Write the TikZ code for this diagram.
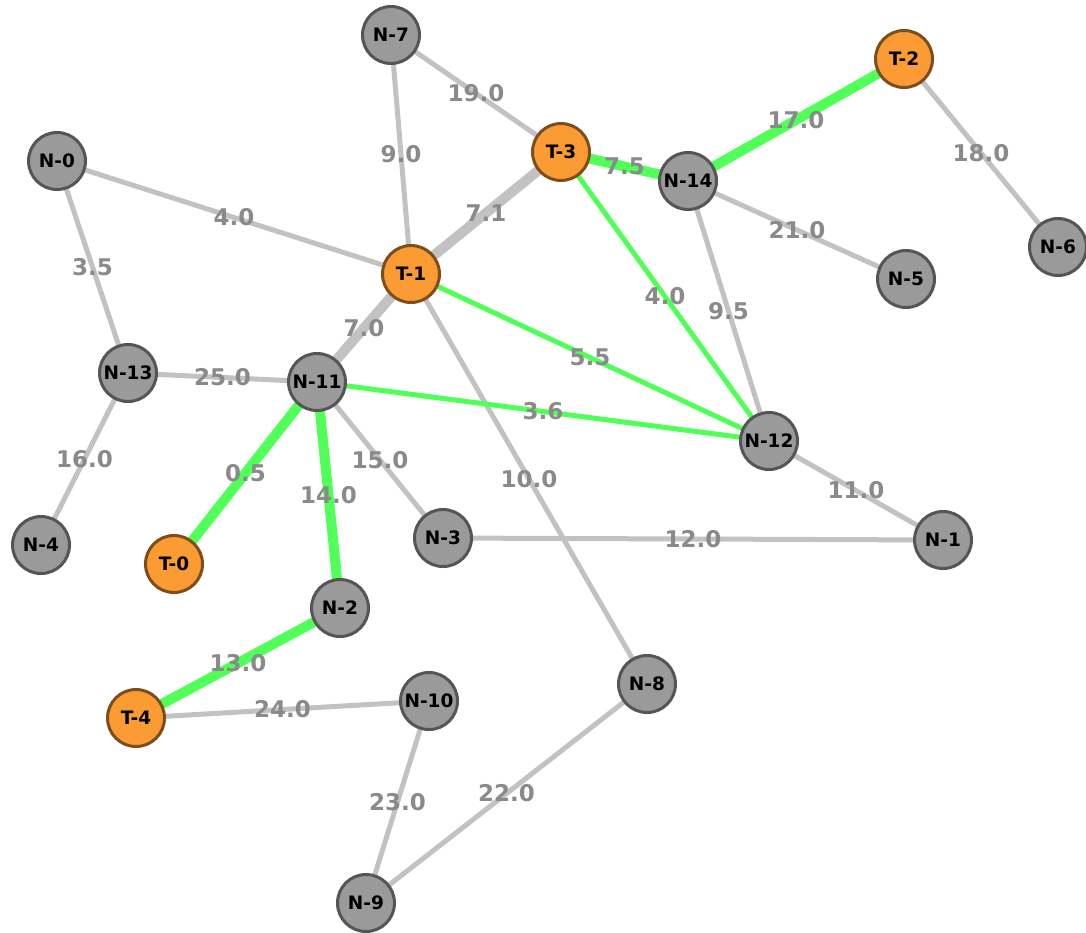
\documentclass[tikz,border=0pt]{standalone}
\usepackage{fontspec}
\setmainfont{DejaVu Sans}
\definecolor{edgegray}{HTML}{C2C2C2}
\definecolor{edgegreen}{HTML}{50FF58}
\definecolor{lblgray}{HTML}{8A8A8A}
\definecolor{nfill}{HTML}{9A9A9A}
\definecolor{nborder}{HTML}{555555}
\definecolor{tfill}{HTML}{FA9B33}
\definecolor{tborder}{HTML}{7D4E1C}
\pgfdeclarelayer{edges}
\pgfdeclarelayer{labels}
\pgfsetlayers{edges,labels,main}
\tikzset{
  nnode/.style={circle, draw=nborder, fill=nfill, line width=3pt, minimum size=57pt, inner sep=0pt, font=\fontsize{18.5}{18.5}\selectfont\bfseries, text=black},
  tnode/.style={nnode, draw=tborder, fill=tfill},
  gthin/.style={draw=edgegray, line width=5pt},
  gthick/.style={draw=edgegray, line width=10pt},
  grthin/.style={draw=edgegreen, line width=5pt},
  grthick/.style={draw=edgegreen, line width=10pt},
  elbl/.style={midway, text=lblgray, font=\fontsize{23}{23}\selectfont\bfseries, inner sep=0pt}
}
\newcommand{\myedge}[4]{%
  \begin{pgfonlayer}{edges}\draw[#1] (#2) -- (#3);\end{pgfonlayer}%
  \begin{pgfonlayer}{labels}\path (#2) -- (#3) node[elbl] {#4};\end{pgfonlayer}}
\begin{document}
\begin{tikzpicture}[x=1pt,y=-1pt]
\useasboundingbox (0,0) rectangle (1086,932);
% nodes
\node[nnode] (N7) at (391,35) {N-7};
\node[tnode] (T2) at (904,59) {T-2};
\node[nnode] (N0) at (57,161) {N-0};
\node[tnode] (T3) at (561,152) {T-3};
\node[nnode] (N14) at (688,181) {N-14};
\node[nnode] (N6) at (1058,247) {N-6};
\node[tnode] (T1) at (411,274) {T-1};
\node[nnode] (N5) at (906,279) {N-5};
\node[nnode] (N13) at (128,373) {N-13};
\node[nnode] (N11) at (317,382) {N-11};
\node[nnode] (N12) at (769,441) {N-12};
\node[nnode] (N4) at (41,545) {N-4};
\node[tnode] (T0) at (174,564) {T-0};
\node[nnode] (N3) at (443,538) {N-3};
\node[nnode] (N1) at (943,540) {N-1};
\node[nnode] (N2) at (340,608) {N-2};
\node[nnode] (N8) at (647,684) {N-8};
\node[tnode] (T4) at (136,718) {T-4};
\node[nnode] (N10) at (429,701) {N-10};
\node[nnode] (N9) at (366,903) {N-9};
% edges
\myedge{gthin}{N7.center}{T1.center}{9.0}
\myedge{gthin}{N7.center}{T3.center}{19.0}
\myedge{gthin}{T2.center}{N6.center}{18.0}
\myedge{gthin}{N0.center}{T1.center}{4.0}
\myedge{gthin}{N0.center}{N13.center}{3.5}
\myedge{gthick}{T3.center}{T1.center}{7.1}
\myedge{gthin}{N14.center}{N5.center}{21.0}
\myedge{gthin}{N14.center}{N12.center}{9.5}
\myedge{gthick}{T1.center}{N11.center}{7.0}
\myedge{gthin}{T1.center}{N8.center}{10.0}
\myedge{gthin}{N13.center}{N11.center}{25.0}
\myedge{gthin}{N13.center}{N4.center}{16.0}
\myedge{gthin}{N11.center}{N3.center}{15.0}
\myedge{gthin}{N12.center}{N1.center}{11.0}
\myedge{gthin}{N3.center}{N1.center}{12.0}
\myedge{gthin}{T4.center}{N10.center}{24.0}
\myedge{gthin}{N10.center}{N9.center}{23.0}
\myedge{gthin}{N8.center}{N9.center}{22.0}
\myedge{grthick}{T2.center}{N14.center}{17.0}
\myedge{grthick}{T3.center}{N14.center}{7.5}
\myedge{grthin}{T3.center}{N12.center}{4.0}
\myedge{grthin}{T1.center}{N12.center}{5.5}
\myedge{grthin}{N11.center}{N12.center}{3.6}
\myedge{grthick}{N11.center}{T0.center}{0.5}
\myedge{grthick}{N11.center}{N2.center}{14.0}
\myedge{grthick}{N2.center}{T4.center}{13.0}
\end{tikzpicture}
\end{document}
